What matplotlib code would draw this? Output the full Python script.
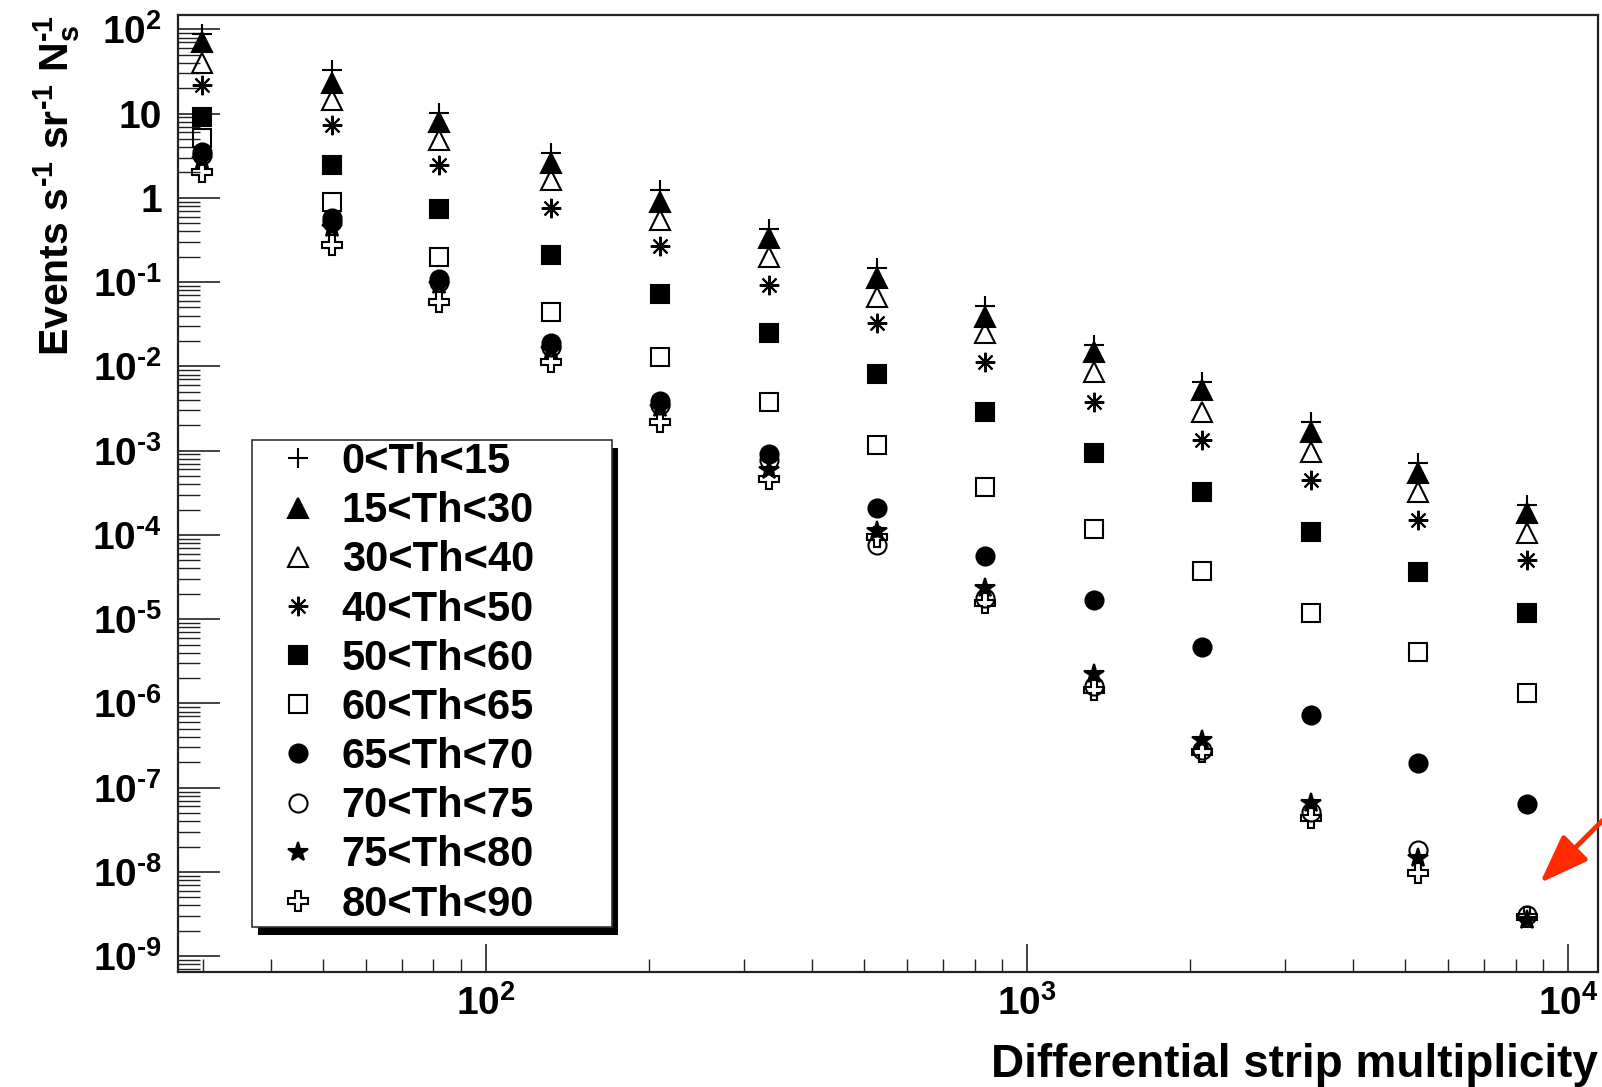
import matplotlib
matplotlib.use("Agg")
import matplotlib.pyplot as plt
import numpy as np
from matplotlib.ticker import FixedLocator, FixedFormatter, LogLocator, NullFormatter
from matplotlib.patches import Rectangle

plt.rcParams["font.family"] = ["Liberation Sans", "DejaVu Sans"]
plt.rcParams["font.weight"] = "bold"
plt.rcParams["axes.labelweight"] = "bold"
plt.rcParams["mathtext.fontset"] = "custom"
plt.rcParams["mathtext.rm"] = "Liberation Sans:bold"
plt.rcParams["mathtext.bf"] = "Liberation Sans:bold"
plt.rcParams["mathtext.it"] = "Liberation Sans:bold"
plt.rcParams["mathtext.sf"] = "Liberation Sans:bold"
plt.rcParams["mathtext.default"] = "bf"
plt.rcParams["axes.unicode_minus"] = False

# differential strip multiplicity (bin centres)
multiplicity = [29.85, 51.9, 81.9, 131.9, 209.7, 333.6, 528.1, 836.2, 1330, 2106, 3350, 5281, 8401]

# events s^-1 sr^-1 Ns^-1 per zenith-angle bin
th_0_15 = [88, 32.9, 10.2, 3.40, 1.24, 0.427, 0.147, 0.052, 0.0179, 0.00656, 0.0022, 7.06e-4, 2.26e-4]
th_15_30 = [70.7, 23.1, 7.94, 2.59, 0.899, 0.333, 0.112, 0.0388, 0.0149, 0.00524, 0.00167, 5.37e-4, 1.8e-4]
th_30_40 = [39.8, 14.5, 4.85, 1.63, 0.545, 0.198, 0.067, 0.0247, 0.00863, 0.00289, 9.7e-4, 3.25e-4, 1.04e-4]
th_40_50 = [21.8, 7.31, 2.45, 0.757, 0.270, 0.0923, 0.0327, 0.01135, 0.0038, 0.00133, 4.47e-4, 1.5e-4, 5.02e-5]
th_50_60 = [9.1, 2.45, 0.736, 0.209, 0.0721, 0.0251, 0.00811, 0.00284, 9.5e-4, 3.19e-4, 1.09e-4, 3.65e-5, 1.17e-5]
th_60_65 = [5.13, 0.891, 0.198, 0.0441, 0.0130, 0.00377, 0.00116, 3.72e-4, 1.17e-4, 3.75e-5, 1.17e-5, 4.09e-6, 1.32e-6]
th_65_70 = [3.50, 0.575, 0.109, 0.0189, 0.00391, 9.1e-4, 2.07e-4, 5.6e-5, 1.68e-5, 4.7e-6, 7.26e-7, 1.97e-7, 6.38e-8]
th_70_75 = [3.22, 0.516, 0.100, 0.0169, 0.00348, 7.7e-4, 7.6e-5, 1.78e-5, 1.60e-6, 2.79e-7, 5.1e-8, 1.82e-8, 3.07e-9]
th_75_80 = [2.81, 0.438, 0.092, 0.0156, 0.00320, 5.9e-4, 1.11e-4, 2.32e-5, 2.23e-6, 3.66e-7, 6.5e-8, 1.45e-8, 2.68e-9]
th_80_90 = [2.02, 0.275, 0.058, 0.0112, 0.00220, 4.6e-4, 9.4e-5, 1.54e-5, 1.44e-6, 2.64e-7, 4.35e-8, 9.6e-9, 2.9e-9]

labels = ["0<Th<15", "15<Th<30", "30<Th<40", "40<Th<50", "50<Th<60",
          "60<Th<65", "65<Th<70", "70<Th<75", "75<Th<80", "80<Th<90"]

y_ticks = [1e-9, 1e-8, 1e-7, 1e-6, 1e-5, 1e-4, 1e-3, 1e-2, 1e-1, 1, 10, 100]
y_tick_labels = [r"$10^{\text{-}9}$", r"$10^{\text{-}8}$", r"$10^{\text{-}7}$", r"$10^{\text{-}6}$",
                 r"$10^{\text{-}5}$", r"$10^{\text{-}4}$", r"$10^{\text{-}3}$", r"$10^{\text{-}2}$",
                 r"$10^{\text{-}1}$", "1", "10", r"$10^{2}$"]
x_ticks = [1e2, 1e3, 1e4]
x_tick_labels = [r"$10^{2}$", r"$10^{3}$", r"$10^{4}$"]

series = [th_0_15, th_15_30, th_30_40, th_40_50, th_50_60,
          th_60_65, th_65_70, th_70_75, th_75_80, th_80_90]
# ROOT-like marker styles: (marker, filled, size)
styles = [("+", True, 14), ("^", True, 14), ("^", False, 14), ((8, 2, 0), True, 14),
          ("s", True, 13), ("s", False, 13), ("o", True, 13), ("o", False, 13),
          ("*", True, 15), ("P", False, 15)]

fig = plt.figure(figsize=(16.02, 10.87), dpi=100)
ax = fig.add_axes([0.1111, 0.1061, 0.8864, 0.8801])

handles = []
for vals, (m, filled, ms), lab in zip(series, styles, labels):
    h, = ax.plot(multiplicity, vals, linestyle="none", marker=m, markersize=ms,
                 markerfacecolor="black" if filled else "none",
                 markeredgecolor="black", markeredgewidth=1.5, label=lab)
    handles.append(h)

ax.set_xscale("log")
ax.set_yscale("log")
ax.set_xlim(26.97, 11360)
ax.set_ylim(6.55e-10, 148)

ax.yaxis.set_major_locator(FixedLocator(y_ticks))
ax.yaxis.set_major_formatter(FixedFormatter(y_tick_labels))
ax.xaxis.set_major_locator(FixedLocator(x_ticks))
ax.xaxis.set_major_formatter(FixedFormatter(x_tick_labels))
ax.yaxis.set_minor_locator(LogLocator(base=10, subs=np.arange(2, 10), numticks=60))
ax.xaxis.set_minor_locator(LogLocator(base=10, subs=np.arange(2, 10), numticks=60))
ax.yaxis.set_minor_formatter(NullFormatter())
ax.xaxis.set_minor_formatter(NullFormatter())

ax.tick_params(axis="both", which="both", direction="in", top=False, right=False, color="#222222")
ax.tick_params(axis="y", which="major", length=30, width=1.2, pad=11.5, labelsize=28)
ax.tick_params(axis="y", which="minor", length=16, width=1.0)
ax.tick_params(axis="x", which="major", length=20, width=1.2, pad=10, labelsize=28)
ax.tick_params(axis="x", which="minor", length=9.5, width=1.0)

for sp in ax.spines.values():
    sp.set_linewidth(1.6)
    sp.set_color("#222222")

ax.set_xlabel("Differential strip multiplicity", fontsize=33, fontweight="bold", loc="right")
ax.xaxis.set_label_coords(1.0, -0.110)
ax.xaxis.label.set_verticalalignment("baseline")

ax.set_ylabel(r"Events s$^{\text{-}1}$ sr$^{\text{-}1}$ $\mathrm{N}_{s}^{\text{-}1}$",
              fontsize=29.5, fontweight="bold", loc="top")
ax.yaxis.set_label_coords(-0.077, 1.0)
ax.yaxis.label.set_verticalalignment("baseline")

leg = ax.legend(handles=handles, loc="upper left",
                bbox_to_anchor=(0.0521, 0.0488, 0.2535, 0.507), mode="expand",
                fontsize=30, frameon=True, fancybox=False, framealpha=1,
                borderpad=0.05, labelspacing=0.22, handlelength=2.1,
                handletextpad=0.0, borderaxespad=0)
leg.get_frame().set_edgecolor("#333333")
leg.get_frame().set_linewidth(1.2)

# ROOT-style black drop shadow under the legend box
fig.canvas.draw()
bb = leg.get_frame().get_window_extent(fig.canvas.get_renderer())
(x0, y0), (x1, y1) = ax.transAxes.inverted().transform([[bb.x0 + 6, bb.y0 - 8], [bb.x1 + 6, bb.y1 - 8]])
ax.add_patch(Rectangle((x0, y0), x1 - x0, y1 - y0, transform=ax.transAxes,
                       facecolor="black", edgecolor="none", zorder=4.9, clip_on=False))

# red arrow pointing at the last cluster
ax.annotate("", xy=(1540 / 1602, 1 - 883 / 1087), xycoords="figure fraction",
            xytext=(1.01, 1 - 805 / 1087), textcoords="figure fraction",
            arrowprops=dict(arrowstyle="-|>,head_length=3.0,head_width=1.1",
                            mutation_scale=10, color="#ff2a00", lw=3.5,
                            shrinkA=0, shrinkB=0),
            annotation_clip=False)

fig.savefig("out.png", dpi=100)
